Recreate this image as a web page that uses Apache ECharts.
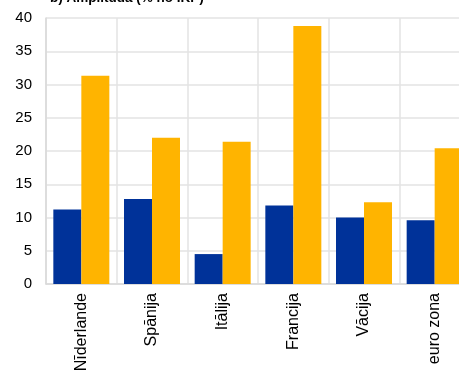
<!DOCTYPE html>
<html>
<head>
<meta charset="utf-8">
<script src="https://cdn.jsdelivr.net/npm/echarts@6/dist/echarts.min.js"></script>
<style>
html, body { margin: 0; padding: 0; background: #fff; }
#chart { width: 459px; height: 372px; }
</style>
</head>
<body>
<div id="chart"></div>
<script>
var categories = ['Nīderlande', 'Spānija', 'Itālija', 'Francija', 'Vācija', 'euro zona'];
var blueValues = [11.2, 12.8, 4.5, 11.8, 10.0, 9.6];
var yellowValues = [31.3, 22.0, 21.4, 38.8, 12.3, 20.4];

var myChart = echarts.init(document.getElementById('chart'));

var option = {
    animation: false,
    title: {
        text: 'b) Amplitūda (% no IKP)',
        left: 45,
        top: -14,
        textStyle: {
            fontFamily: 'Liberation Sans',
            fontSize: 13.5,
            fontWeight: 'bold',
            color: '#000'
        }
    },
    grid: {
        left: 46,
        top: 18,
        width: 424,
        height: 266,
        outerBoundsMode: 'none',
        containLabel: false
    },
    xAxis: {
        type: 'category',
        data: categories,
        axisLine: { lineStyle: { color: '#d9d9d9', width: 1.5 } },
        axisTick: { show: false },
        splitLine: { show: true, lineStyle: { color: '#e3e3e3', width: 1.5 } },
        axisLabel: {
            rotate: 90,
            margin: 9,
            fontFamily: 'Liberation Sans',
            fontSize: 16,
            color: '#000'
        }
    },
    yAxis: {
        type: 'value',
        min: 0,
        max: 40,
        interval: 5,
        axisLine: { show: true, lineStyle: { color: '#d9d9d9', width: 1.5 } },
        axisTick: { show: false },
        splitLine: { lineStyle: { color: '#e3e3e3', width: 1.5 } },
        axisLabel: {
            margin: 14,
            fontFamily: 'Liberation Sans',
            fontSize: 15,
            color: '#000'
        }
    },
    series: [
        {
            type: 'bar',
            data: blueValues,
            barWidth: 28,
            barGap: 0,
            itemStyle: { color: '#003299' }
        },
        {
            type: 'bar',
            data: yellowValues,
            barWidth: 28,
            barGap: 0,
            itemStyle: { color: '#ffb400' }
        }
    ]
};

myChart.setOption(option);
</script>
</body>
</html>
